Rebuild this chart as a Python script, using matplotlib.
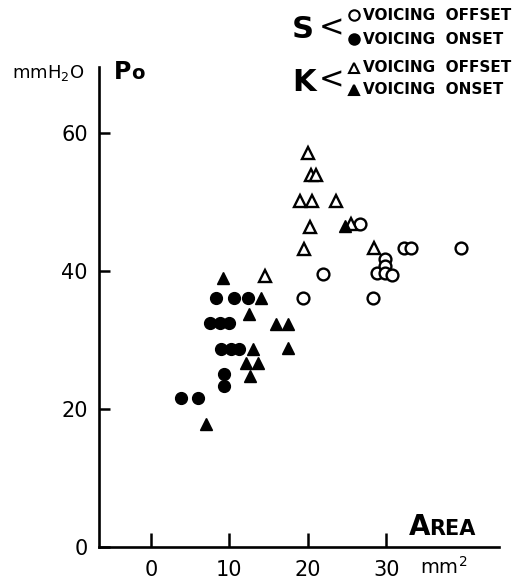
import matplotlib
matplotlib.use("Agg")
from matplotlib import pyplot as plt

plt.rcParams['font.family'] = ['DejaVu Sans']

# S, voicing offset (open circles)
s_off_x = [19.4, 21.9, 26.6, 28.3, 28.8, 29.9, 29.9, 29.9, 30.7, 32.2, 33.2, 39.5]
s_off_y = [36.1, 39.6, 46.8, 36.1, 39.7, 41.7, 40.7, 39.7, 39.4, 43.3, 43.3, 43.3]

# S, voicing onset (filled circles)
s_on_x = [3.9, 6.0, 7.5, 8.3, 8.8, 9.0, 9.3, 9.3, 9.9, 10.2, 10.6, 11.3, 12.4]
s_on_y = [21.6, 21.6, 32.5, 36.1, 32.5, 28.7, 25.1, 23.3, 32.5, 28.7, 36.1, 28.7, 36.1]

# K, voicing offset (open triangles)
k_off_x = [14.6, 19.0, 19.5, 20.0, 20.3, 20.4, 20.5, 21.0, 23.6, 25.5, 28.4]
k_off_y = [39.3, 50.1, 43.2, 57.1, 46.4, 53.9, 50.1, 53.9, 50.1, 46.8, 43.3]

# K, voicing onset (filled triangles)
k_on_x = [7.0, 9.2, 12.1, 12.5, 12.6, 13.0, 13.6, 14.1, 15.9, 17.5, 17.5, 24.8]
k_on_y = [17.8, 39.0, 26.7, 33.8, 24.8, 28.7, 26.7, 36.1, 32.3, 32.3, 28.8, 46.5]

xticks = [0, 10, 20, 30]
yticks = [0, 20, 40, 60]

W, H = 518, 580
fig = plt.figure(figsize=(W / 100, H / 100), dpi=100)

# main axes, placed in pixel terms
ax = fig.add_axes([99 / W, (H - 547) / H, 405 / W, 483 / H])
ax.set_xlim(-6.6, 45)
ax.set_ylim(0, 70)

ms = 8.5
ax.plot(s_off_x, s_off_y, 'o', ms=ms, mfc='white', mec='black', mew=1.7, ls='none', clip_on=False)
ax.plot(s_on_x, s_on_y, 'o', ms=ms, mfc='black', mec='black', ls='none', clip_on=False)
ax.plot(k_off_x, k_off_y, '^', ms=ms, mfc='white', mec='black', mew=1.7, ls='none', clip_on=False)
ax.plot(k_on_x, k_on_y, '^', ms=ms, mfc='black', mec='black', ls='none', clip_on=False)

for side in ['top', 'right']:
    ax.spines[side].set_visible(False)
ax.spines['left'].set_linewidth(1.9)
ax.spines['bottom'].set_linewidth(1.9)
ax.spines['left'].set_bounds(0, 69.5)
ax.spines['bottom'].set_bounds(-6.6, 44.4)

ax.set_xticks(xticks)
ax.set_xticklabels([str(v) for v in xticks])
ax.set_yticks(yticks)
ax.set_yticklabels([str(v) for v in yticks])
ax.tick_params(axis='x', direction='in', length=10, width=1.8, pad=9, labelsize=15)
ax.tick_params(axis='y', direction='in', length=8, width=1.8, pad=8, labelsize=15)

# overlay in pixel coordinates for labels and the key
ov = fig.add_axes([0, 0, 1, 1])
ov.set_xlim(0, W)
ov.set_ylim(H, 0)
ov.set_axis_off()

ov.text(12, 73, 'mmH$_2$O', fontsize=13, ha='left', va='center')
ov.text(114, 79, 'P', fontsize=17, fontweight='bold', ha='left', va='baseline')
ov.text(131, 79, 'o', fontsize=14, fontweight='bold', ha='left', va='baseline')

ov.text(409, 535, 'A', fontsize=20, fontweight='bold', ha='left', va='baseline')
ov.text(429, 535, 'REA', fontsize=15, fontweight='bold', ha='left', va='baseline')
ov.text(420, 574, 'mm$^2$', fontsize=14, ha='left', va='baseline')

# key
ov.text(292, 38, 'S', fontsize=22, fontweight='bold', ha='left', va='baseline')
ov.text(319, 28, '<', fontsize=22, ha='left', va='center')
ov.text(292, 91, 'K', fontsize=22, fontweight='bold', ha='left', va='baseline')
ov.text(319, 80, '<', fontsize=22, ha='left', va='center')

key_rows = [
    (15, 'o', 'white', 'VOICING  OFFSET'),
    (39, 'o', 'black', 'VOICING  ONSET'),
    (68, '^', 'white', 'VOICING  OFFSET'),
    (90, '^', 'black', 'VOICING  ONSET'),
]
for y, m, fc, label in key_rows:
    ov.plot([354], [y], m, ms=7.5, mfc=fc, mec='black', mew=1.5, clip_on=False)
    ov.text(363, y, label, fontsize=11, fontweight='bold', ha='left', va='center')

fig.savefig('out.png', dpi=100)
